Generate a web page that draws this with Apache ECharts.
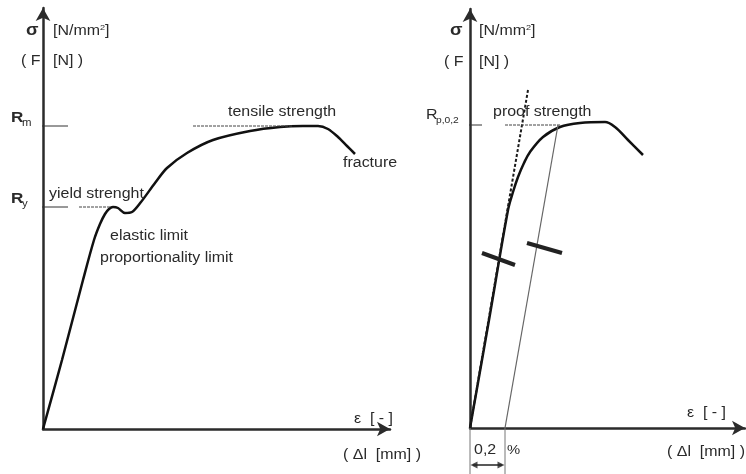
<!DOCTYPE html>
<html><head><meta charset="utf-8">
<script src="https://cdn.jsdelivr.net/npm/echarts@6/dist/echarts.min.js"></script>
<style>html,body{margin:0;padding:0;background:#fff}#c{width:746px;height:474px}</style>
</head><body><div id="c"></div>
<script>
// ---- data (arbitrary schematic units) ----
const leftCurve = [[0,0],[19,69],[40,149],[51,189],[57,205],[62,215],[66,220],[70,222],[75,221],[82,216],[89,217],[98,227],[112,246],[124,261],[144,276],[170,289],[207,298],[237,302],[260,303],[275,303],[285,300],[295,292],[304,283],[312,275]];
const leftRm = 303;
const leftRy = 222;
const rightCurve = [[0,0],[19,108],[38,218],[43,236],[48,251],[54,265],[60,276],[73,291],[90,301],[110,305],[135,306],[145,301],[158,288],[173,273]];
const elasticLine = [[0,0],[58,338]];
const offsetLine = [[35,0],[88,303]];
const rightRp = 303;
const offsetStrain = 35; // 0,2 %

const chart = echarts.init(document.getElementById('c'), null, {renderer:'canvas'});

function axis(gi, max){
  return {type:'value', gridIndex:gi, min:0, max:max,
    axisLine:{show:true, onZero:false, symbol:['none','arrow'], symbolSize:[11,13], lineStyle:{color:'#2b2b2b', width:2.5}},
    axisTick:{show:false}, axisLabel:{show:false}, splitLine:{show:false}};
}
function seg(gi, pts, ls, extra){
  return Object.assign({type:'line', xAxisIndex:gi, yAxisIndex:gi, data:pts, showSymbol:false, symbol:'none', clip:false, silent:true,
    lineStyle:ls, z:3}, extra||{});
}
const FONT = '"Liberation Sans", Arial, sans-serif';
const SX = 1.14;
function txt(x, y, text, size, opts){
  opts = opts||{};
  return {type:'text', x:x, y:y, scaleX:SX, silent:true, z:10,
    style:Object.assign({text:text, fill:'#2a2a2a', font:(opts.bold?'bold ':'')+size+'px '+FONT,
      textAlign:'left', textVerticalAlign:'middle'}, opts.style||{})};
}

const series = [
  seg(0, leftCurve, {color:'#111', width:2.5}, {smooth:0.3}),
  seg(0, [[-10,leftRm],[25,leftRm]], {color:'#333', width:1}),
  seg(0, [[-10,leftRy],[25,leftRy]], {color:'#333', width:1}),
  seg(0, [[150,leftRm],[250,leftRm]], {color:'#444', width:1, type:[3,1]}),
  seg(0, [[36,leftRy],[67,leftRy]], {color:'#444', width:1, type:[3,1]}),
  seg(1, rightCurve, {color:'#111', width:2.5}, {smooth:0.35}),
  seg(1, elasticLine, {color:'#1a1a1a', width:2, type:[3,2]}),
  seg(1, offsetLine, {color:'#666', width:1.2}),
  seg(1, [[-5,rightRp],[12,rightRp]], {color:'#333', width:1}),
  seg(1, [[35,rightRp],[90,rightRp]], {color:'#444', width:1, type:[3,1]}),
  seg(1, [[12,175],[45,163]], {color:'#222', width:4}),
  seg(1, [[57,185],[92,175]], {color:'#222', width:4}),
  seg(1, [[0,0],[0,-46]], {color:'#777', width:1}),
  seg(1, [[offsetStrain,0],[offsetStrain,-46]], {color:'#777', width:1}),
  seg(1, [[3,-37],[offsetStrain-3,-37]], {color:'#222', width:1.5}),
  {type:'scatter', xAxisIndex:1, yAxisIndex:1, clip:false, silent:true, symbol:'triangle', symbolSize:[7,7],
    itemStyle:{color:'#222'}, z:4,
    data:[{value:[4,-37], symbolRotate:90},{value:[offsetStrain-4,-37], symbolRotate:-90}]}
];

const graphics = [
  // left panel
  txt(26, 31, 'σ', 16, {bold:true}),
  txt(53, 31, '[N/mm{s|2}]', 14, {style:{rich:{s:{fontSize:8, verticalAlign:'top', padding:[0,0,6,0], fill:'#2a2a2a'}}}}),
  txt(21, 61, '( F', 14),
  txt(53, 61, '[N] )', 14),
  txt(11, 118, 'R', 15, {bold:true}),
  txt(22, 123, 'm', 10),
  txt(11, 199, 'R', 15, {bold:true}),
  txt(22, 204, 'y', 10),
  txt(49, 194, 'yield strenght', 14),
  txt(110, 236, 'elastic limit', 14),
  txt(100, 258, 'proportionality limit', 14),
  txt(228, 112, 'tensile strength', 14),
  txt(343, 163, 'fracture', 14),
  txt(354, 419, 'ε  [ - ]', 14, {bold:false}),
  txt(343, 455, '( Δl  [mm] )', 14),
  // right panel
  txt(450, 31, 'σ', 16, {bold:true}),
  txt(479, 31, '[N/mm{s|2}]', 14, {style:{rich:{s:{fontSize:8, verticalAlign:'top', padding:[0,0,6,0], fill:'#2a2a2a'}}}}),
  txt(444, 62, '( F', 14),
  txt(479, 62, '[N] )', 14),
  txt(426, 115, 'R', 14),
  txt(436, 121, 'p,0,2', 9),
  txt(493, 112, 'proof strength', 14),
  txt(474, 450, '0,2', 14),
  txt(507, 450, '%', 13),
  txt(687, 413, 'ε  [ - ]', 14),
  txt(667, 452, '( Δl  [mm] )', 14)
];

chart.setOption({
  animation:false,
  backgroundColor:'#fff',
  grid:[{left:43, top:8, width:347, height:421}, {left:470, top:9, width:275, height:419}],
  xAxis:[axis(0,347), axis(1,275)],
  yAxis:[axis(0,421), axis(1,419)],
  series:series,
  graphic:graphics
});
</script>
</body></html>
